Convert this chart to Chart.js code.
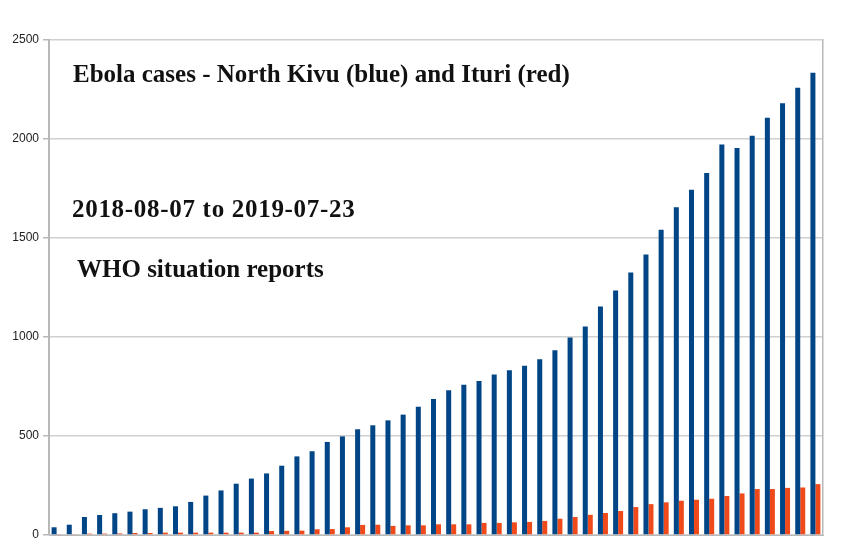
<!DOCTYPE html>
<html>
<head>
<meta charset="utf-8">
<script src="https://cdn.jsdelivr.net/npm/chart.js@4"></script>
<style>
  body { margin: 0; background: #fff; }
  #wrap { position: relative; width: 846px; height: 559px; }
  .note {
    position: absolute;
    font-family: "Liberation Serif", serif;
    font-weight: bold;
    font-size: 25px;
    color: #111;
    white-space: nowrap;
    line-height: 1;
  }
</style>
</head>
<body>
<div id="wrap">
  <canvas id="ebolaChart" width="846" height="559"></canvas>
  <div class="note" style="left:73px; top:61px;">Ebola cases - North Kivu (blue) and Ituri (red)</div>
  <div class="note" style="left:72px; top:196px; letter-spacing:0.7px;">2018-08-07 to 2019-07-23</div>
  <div class="note" style="left:77px; top:256px;">WHO situation reports</div>
</div>
<script>
// One entry per WHO situation report
const reports = [
  "1", "2", "3", "4", "5", "6", "7", "8", "9", "10",
  "11", "12", "13", "14", "15", "16", "17", "18", "19", "20",
  "21", "22", "23", "24", "25", "26", "27", "28", "29", "30",
  "31", "32", "33", "34", "35", "36", "37", "38", "39", "40",
  "41", "42", "43", "44", "45", "46", "47", "48", "49", "50", "51"
];

// Cumulative cases, North Kivu
const northKivu = [
  39, 52, 91, 101, 110, 118, 130, 137, 145, 167,
  199, 225, 259, 285, 311, 350, 397, 423, 470, 498,
  534, 554, 579, 608, 648, 687, 731, 759, 778, 811,
  832, 855, 887, 933, 997, 1053, 1154, 1235, 1326, 1417,
  1542, 1655, 1744, 1828, 1972, 1955, 2016, 2107, 2180, 2259, 2335
];

// Cumulative cases, Ituri
const ituri = [
  3, 3, 7, 7, 8, 10, 10, 12, 12, 12,
  12, 12, 12, 12, 20, 21, 22, 29, 30, 39,
  51, 52, 46, 49, 49, 54, 54, 54, 61, 61,
  64, 66, 71, 82, 91, 102, 111, 121, 141, 156,
  165, 173, 178, 183, 197, 210, 232, 232, 238, 240, 257
];

const yTicks = [0, 500, 1000, 1500, 2000, 2500];

const ctx = document.getElementById("ebolaChart").getContext("2d");
new Chart(ctx, {
  type: "bar",
  data: {
    labels: reports,
    datasets: [
      { label: "North Kivu", data: northKivu, backgroundColor: "#004586" },
      { label: "Ituri", data: ituri, backgroundColor: "#f04a1a" }
    ]
  },
  options: {
    responsive: false,
    animation: false,
    layout: { padding: { top: 40, right: 23, left: 0, bottom: 0 } },
    datasets: {
      bar: { categoryPercentage: 0.66, barPercentage: 1.0 }
    },
    plugins: {
      legend: { display: false },
      tooltip: { enabled: false }
    },
    scales: {
      x: {
        ticks: { display: false },
        grid: { display: false, drawTicks: false },
        border: { display: true, color: "#b8b8b8", width: 1 },
        afterFit: (scale) => { scale.height = 24; }
      },
      y: {
        min: yTicks[0],
        max: yTicks[yTicks.length - 1],
        afterBuildTicks: (scale) => {
          scale.ticks = yTicks.map((v) => ({ value: v }));
        },
        ticks: {
          color: "#222",
          padding: 4,
          font: { family: "Liberation Sans", size: 12 },
          callback: (value) => String(value)
        },
        grid: { color: "#d0d0d0", lineWidth: 1.5, tickLength: 6, tickColor: "#b8b8b8" },
        border: { color: "#b8b8b8", width: 2 },
        afterFit: (scale) => { scale.width = 49; }
      },
      frame: {
        position: "right",
        min: 0,
        max: 2500,
        ticks: { display: false },
        grid: { display: false, drawTicks: false },
        border: { display: true, color: "#b8b8b8", width: 1.5 },
        afterFit: (scale) => { scale.width = 0; }
      }
    }
  }
});
</script>
</body>
</html>
